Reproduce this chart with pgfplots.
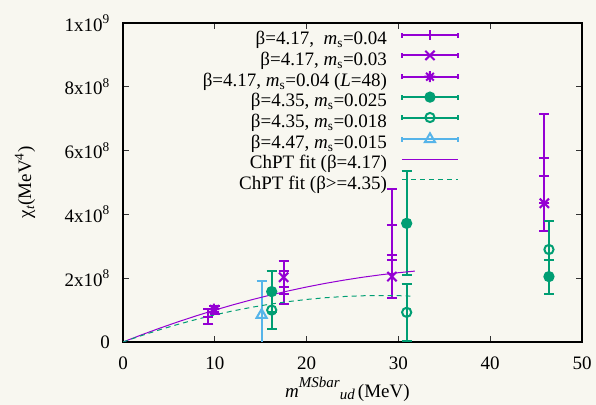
\documentclass[border=0pt]{standalone}
\usepackage{fontspec}
\setmainfont{Liberation Serif}
\usepackage{pgfplots}
\pgfplotsset{compat=1.18}
\definecolor{bg}{RGB}{248,247,240}
\definecolor{cpurple}{RGB}{148,0,211}
\definecolor{cgreen}{RGB}{0,158,115}
\definecolor{cblue}{RGB}{86,180,233}

% gnuplot point type 3: plus and cross together
\pgfdeclareplotmark{pxstar}{%
  \pgfpathmoveto{\pgfqpoint{-\pgfplotmarksize}{0pt}}%
  \pgfpathlineto{\pgfqpoint{\pgfplotmarksize}{0pt}}%
  \pgfpathmoveto{\pgfqpoint{0pt}{-\pgfplotmarksize}}%
  \pgfpathlineto{\pgfqpoint{0pt}{\pgfplotmarksize}}%
  \pgfpathmoveto{\pgfqpoint{-.7\pgfplotmarksize}{-.7\pgfplotmarksize}}%
  \pgfpathlineto{\pgfqpoint{.7\pgfplotmarksize}{.7\pgfplotmarksize}}%
  \pgfpathmoveto{\pgfqpoint{-.7\pgfplotmarksize}{.7\pgfplotmarksize}}%
  \pgfpathlineto{\pgfqpoint{.7\pgfplotmarksize}{-.7\pgfplotmarksize}}%
  \pgfusepathqstroke}

\pgfplotsset{
  ebleg/.style={legend image code/.code={%
    \draw[##1,mark=none] (0bp,5.7bp) -- (56bp,5.7bp);
    \draw[##1,mark=none] (0bp,3.2bp) -- (0bp,8.2bp);
    \draw[##1,mark=none] (56bp,3.2bp) -- (56bp,8.2bp);
    \draw[##1] plot coordinates {(28bp,5.7bp)};}},
  lnleg/.style={legend image code/.code={%
    \draw[##1] (0bp,5.7bp) -- (56bp,5.7bp);}},
}

\begin{document}
\fontsize{19bp}{23bp}\selectfont
\begin{tikzpicture}
\fill[bg] (0,0) rectangle (596bp,405bp);
\useasboundingbox (0,0) rectangle (596bp,405bp);
\begin{axis}[
  at={(123bp,63bp)}, anchor=south west,
  scale only axis, width=459bp, height=319bp,
  xmin=0, xmax=50, ymin=0, ymax=1e9,
  axis line style={line width=1.2bp},
  tick align=inside, major tick length=6bp,
  major tick style={line width=0.8bp, black!80},
  xtick={0,10,...,50},
  xticklabels={0,10,20,30,40,50},
  ytick={0,2e8,4e8,6e8,8e8,1e9},
  yticklabels={0,2x10\textsuperscript{8},4x10\textsuperscript{8},6x10\textsuperscript{8},8x10\textsuperscript{8},1x10\textsuperscript{9}},
  scaled y ticks=false,
  xticklabel style={inner sep=0pt, anchor=north, yshift=-15bp},
  yticklabel style={inner sep=0pt, anchor=east, xshift=-13bp},
  xlabel={\textit{m}\raisebox{10bp}{\fontsize{15bp}{15bp}\selectfont\textit{MSbar}}\raisebox{-2bp}{\fontsize{15bp}{15bp}\selectfont\textit{ud}}\,(MeV)},
  xlabel style={at={(axis description cs:0.3529,-0.1755)}, anchor=base west, inner sep=0pt},
  ylabel={χ\textsubscript{\textit{t}}(MeV\textsuperscript{4})},
  ylabel style={at={(axis description cs:-0.2004,0.5)}, anchor=base, inner sep=0pt},
  legend plot pos=right,
  legend cell align=right,
  legend style={at={(axis description cs:0.7320,0.978)}, anchor=north east,
    draw=none, fill=none, inner sep=0pt, outer sep=0pt,
    column sep=14bp, row sep=0pt,
    nodes={inner sep=0pt, text height=14bp, text depth=6.2bp}},
]

\addplot[only marks, cpurple, mark=+, mark size=5bp, line width=2bp, ebleg,
  error bars/.cd, y dir=both, y explicit,
  error bar style={line width=2bp},
  error mark options={rotate=90, mark size=5bp, line width=2bp}] table[y error=e] {
x     y       e
9.3   0.79e8  0.23e8
17.5  1.71e8  0.52e8
29.3  3.68e8  1.12e8
45.9  5.76e8  1.39e8
};
\addlegendentry{β=4.17,\ \ \textit{m}\textsubscript{s}=0.04}

\addplot[only marks, cpurple, mark=x, mark size=6.5bp, line width=2bp, ebleg,
  error bars/.cd, y dir=both, y explicit,
  error bar style={line width=2bp},
  error mark options={rotate=90, mark size=5bp, line width=2bp}] table[y error=e] {
x     y       e
10.0  1.01e8  0.13e8
17.5  2.03e8  0.51e8
29.3  2.05e8  0.68e8
45.9  4.35e8  0.86e8
};
\addlegendentry{β=4.17, \textit{m}\textsubscript{s}=0.03}

\addplot[only marks, cpurple, mark=pxstar, mark size=5.5bp, line width=2bp, ebleg,
  error bars/.cd, y dir=both, y explicit,
  error bar style={line width=2bp},
  error mark options={rotate=90, mark size=5bp, line width=2bp}] table[y error=e] {
x     y       e
9.9   1.03e8  0.10e8
};
\addlegendentry{β=4.17, \textit{m}\textsubscript{s}=0.04 (\textit{L}=48)}

\addplot[only marks, cgreen, mark=*, mark size=4.6bp, mark options={fill=cgreen}, line width=2bp, ebleg,
  error bars/.cd, y dir=both, y explicit,
  error bar style={line width=2bp},
  error mark options={rotate=90, mark size=5bp, line width=2bp}] table[y error=e] {
x     y       e
16.2  1.58e8  0.64e8
30.9  3.72e8  1.63e8
46.4  2.05e8  0.53e8
};
\addlegendentry{β=4.35, \textit{m}\textsubscript{s}=0.025}

\addplot[only marks, cgreen, mark=o, mark size=4.6bp, line width=2bp, ebleg,
  error bars/.cd, y dir=both, y explicit,
  error bar style={line width=2bp},
  error mark options={rotate=90, mark size=5bp, line width=2bp}] table[y error=e] {
x     y       e
16.2  1.00e8  0.60e8
30.9  0.93e8  0.90e8
46.4  2.90e8  0.89e8
};
\addlegendentry{β=4.35, \textit{m}\textsubscript{s}=0.018}

\addplot[only marks, cblue, mark=triangle, mark size=5.8bp, line width=2bp, ebleg,
  error bars/.cd, y dir=both, y explicit,
  error bar style={line width=2bp},
  error mark options={rotate=90, mark size=5bp, line width=2bp}] table[y error=e] {
x     y       e
15.1  0.85e8  1.07e8
};
\addlegendentry{β=4.47, \textit{m}\textsubscript{s}=0.015}

\addplot[cpurple, line width=1bp, no marks, lnleg] coordinates {
(0,0) (2,0.222e8) (4,0.433e8) (6,0.633e8) (8,0.822e8) (10,1.000e8)
(12,1.167e8) (14,1.323e8) (16,1.468e8) (18,1.601e8) (20,1.724e8)
(22,1.836e8) (24,1.936e8) (26,2.026e8) (28,2.104e8) (30,2.172e8)
(31.8,2.223e8)
};
\addlegendentry{ChPT fit (β=4.17)}

\addplot[cgreen, line width=1bp, no marks, dash pattern=on 5bp off 4bp, lnleg] coordinates {
(0,0) (2,0.199e8) (4,0.384e8) (6,0.554e8) (8,0.709e8) (10,0.850e8)
(12,0.976e8) (14,1.087e8) (16,1.185e8) (18,1.266e8) (20,1.334e8)
(22,1.387e8) (24,1.425e8) (26,1.449e8) (28,1.457e8) (30,1.452e8)
(31.3,1.440e8)
};
\addlegendentry{ChPT fit (β>=4.35)}

\end{axis}
\end{tikzpicture}
\end{document}
